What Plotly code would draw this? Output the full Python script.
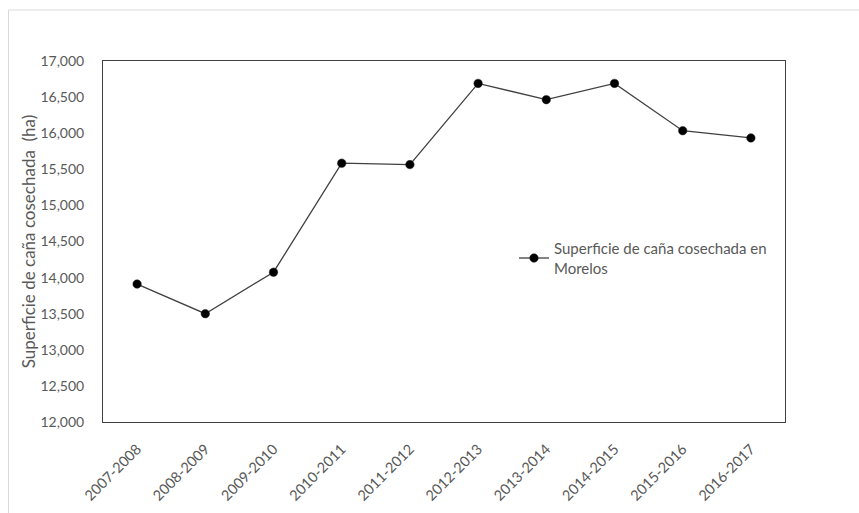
import plotly.graph_objects as go

categories = ["2007-2008", "2008-2009", "2009-2010", "2010-2011", "2011-2012",
              "2012-2013", "2013-2014", "2014-2015", "2015-2016", "2016-2017"]
values = [13910, 13500, 14075, 15585, 15565, 16690, 16465, 16690, 16035, 15935]
y_ticks = [12000, 12500, 13000, 13500, 14000, 14500, 15000, 15500, 16000, 16500, 17000]
series_name = "Superficie de caña cosechada en<br>Morelos"
y_title = "Superficie de caña cosechada  (ha)"

W, H = 859, 513
L, R, T, B = 103, 74, 61, 91
pw, ph = W - L - R, H - T - B

def px(x):
    return (x - L) / pw

def py(y):
    return (H - B - y) / ph

font_family = "Lato, Open Sans, sans-serif"
grey = "#595959"

fig = go.Figure()
fig.add_trace(go.Scatter(
    x=categories, y=values, mode="lines+markers", name=series_name,
    line=dict(color="#404040", width=1.3),
    marker=dict(color="black", size=8.5, line=dict(color="#222", width=0.5)),
))

fig.update_layout(
    width=W, height=H,
    margin=dict(l=L, r=R, t=T, b=B, autoexpand=False),
    paper_bgcolor="white", plot_bgcolor="white",
    font=dict(family=font_family, color=grey, size=14),
    showlegend=True,
    legend=dict(x=px(514), y=py(232), xanchor="left", yanchor="top",
                bgcolor="rgba(0,0,0,0)", font=dict(size=15, color=grey),
                itemwidth=30),
    xaxis=dict(type="category", showline=True, linecolor="#404040", linewidth=1,
               mirror=True, showgrid=False, ticks="", tickangle=-45,
               ticklabelstandoff=12, automargin=False,
               tickfont=dict(size=14.5, color=grey), range=[-0.5, 9.5]),
    yaxis=dict(range=[12000, 17000], tickvals=y_ticks, tickformat=",",
               showline=True, linecolor="#404040", linewidth=1, mirror=True,
               showgrid=False, ticks="", zeroline=False, ticklabelstandoff=15,
               automargin=False,
               tickfont=dict(size=14, color=grey),
               title=dict(text=y_title, font=dict(size=17, color=grey), standoff=0)),
    shapes=[
        dict(type="line", xref="paper", yref="paper", x0=px(8.5), x1=px(862),
             y0=py(10), y1=py(10), line=dict(color="#d9d9d9", width=1)),
        dict(type="line", xref="paper", yref="paper", x0=px(8.5), x1=px(8.5),
             y0=py(10), y1=py(520), line=dict(color="#d9d9d9", width=1)),
    ],
)

fig.write_html("out.html")
